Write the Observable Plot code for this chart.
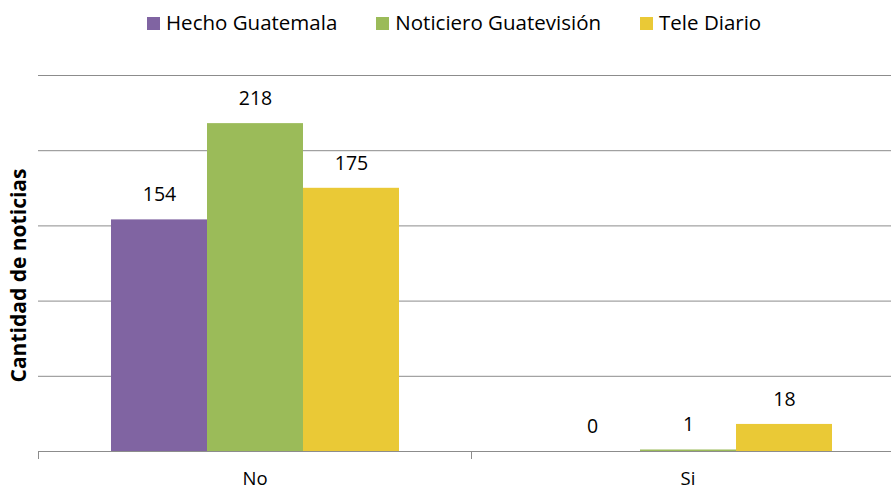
<!DOCTYPE html>
<html>
<head>
<meta charset="utf-8">
<script src="https://cdn.jsdelivr.net/npm/d3@7"></script>
<script src="https://cdn.jsdelivr.net/npm/@observablehq/plot@0.6"></script>
<style>
  html, body { margin: 0; padding: 0; background: #fff; overflow: hidden; width: 891px; height: 491px; }
  #legend { position: relative; width: 891px; height: 40px; font-family: "Open Sans", sans-serif; font-size: 20.5px; color: #000; }
  #legend .row { position: absolute; left: 147px; top: 8px; height: 28px; display: flex; align-items: center; white-space: nowrap; }
  #legend .item { display: flex; align-items: center; margin-right: 39px; }
  #legend .sw { width: 13px; height: 13px; margin-right: 6px; margin-top: 3px; }
  #chart { width: 891px; height: 451px; overflow: hidden; }
  #chart svg { display: block; max-width: none !important; height: 451px !important; }
</style>
</head>
<body>
<div id="legend"><div class="row"></div></div>
<div id="chart"></div>
<script>
// ---- data ----
const categories = ["No", "Si"];
const series = ["Hecho Guatemala", "Noticiero Guatevisión", "Tele Diario"];
const hechoGuatemala = [154, 0];
const noticieroGuatevision = [218, 1];
const teleDiario = [175, 18];
const colors = ["#8064A2", "#9BBB59", "#EAC936"];
const yTitle = "Cantidad de noticias";
const gridValues = [50, 100, 150, 200, 250];

const seriesValues = [hechoGuatemala, noticieroGuatevision, teleDiario];
const rows = [];
categories.forEach((c, i) => {
  series.forEach((s, j) => rows.push({category: c, series: s, value: seriesValues[j][i]}));
});

// ---- legend ----
const row = d3.select("#legend .row");
series.forEach((s, j) => {
  const it = row.append("div").attr("class", "item");
  it.append("div").attr("class", "sw").style("background", colors[j]);
  it.append("span").text(s);
});

// ---- chart ----
const W = 904, H = 451, mT = 35, mB = 40, mL = 38, mR = 0;
const lineColor = "#8c8c8c";

const boundaryTick = (index, scales, values, dims) => {
  const g = d3.create("svg:g");
  const y0 = dims.height - dims.marginBottom;
  g.append("line")
    .attr("x1", dims.marginLeft + 0.5).attr("x2", dims.marginLeft + 0.5)
    .attr("y1", y0).attr("y2", y0 + 8)
    .attr("stroke", lineColor).attr("stroke-width", 1);
  return g.node();
};

const chart = Plot.plot({
  width: W, height: H,
  marginTop: mT, marginBottom: mB, marginLeft: mL, marginRight: mR,
  style: {fontFamily: "Open Sans, sans-serif", background: "#fff", color: "#000"},
  fx: {domain: categories, padding: 0, axis: null, label: null},
  x: {domain: series, paddingInner: 0, paddingOuter: 0.75, axis: null},
  y: {domain: [0, 250], axis: null},
  color: {domain: series, range: colors},
  marks: [
    Plot.ruleY(gridValues, {stroke: lineColor, strokeWidth: 1}),
    Plot.barY(rows, {fx: "category", x: "series", y: "value", fill: "series"}),
    Plot.ruleY([0], {stroke: lineColor, strokeWidth: 1}),
    boundaryTick,
    Plot.text(rows, {fx: "category", x: "series", y: "value", text: d => `${d.value}`, dy: -25, fontSize: 19.5, fill: "#000"}),
    Plot.text(categories, {fx: d => d, text: d => d, frameAnchor: "bottom", lineAnchor: "middle", dy: 28, fontSize: 18.5, fill: "#000"}),
    Plot.text([yTitle], {fx: () => categories[0], text: d => d, frameAnchor: "left", textAnchor: "middle", lineAnchor: "middle", rotate: -90, dx: -19, dy: 12, fontSize: 21, fontWeight: "bold", fill: "#000"})
  ]
});
document.getElementById("chart").appendChild(chart);
</script>
</body>
</html>
